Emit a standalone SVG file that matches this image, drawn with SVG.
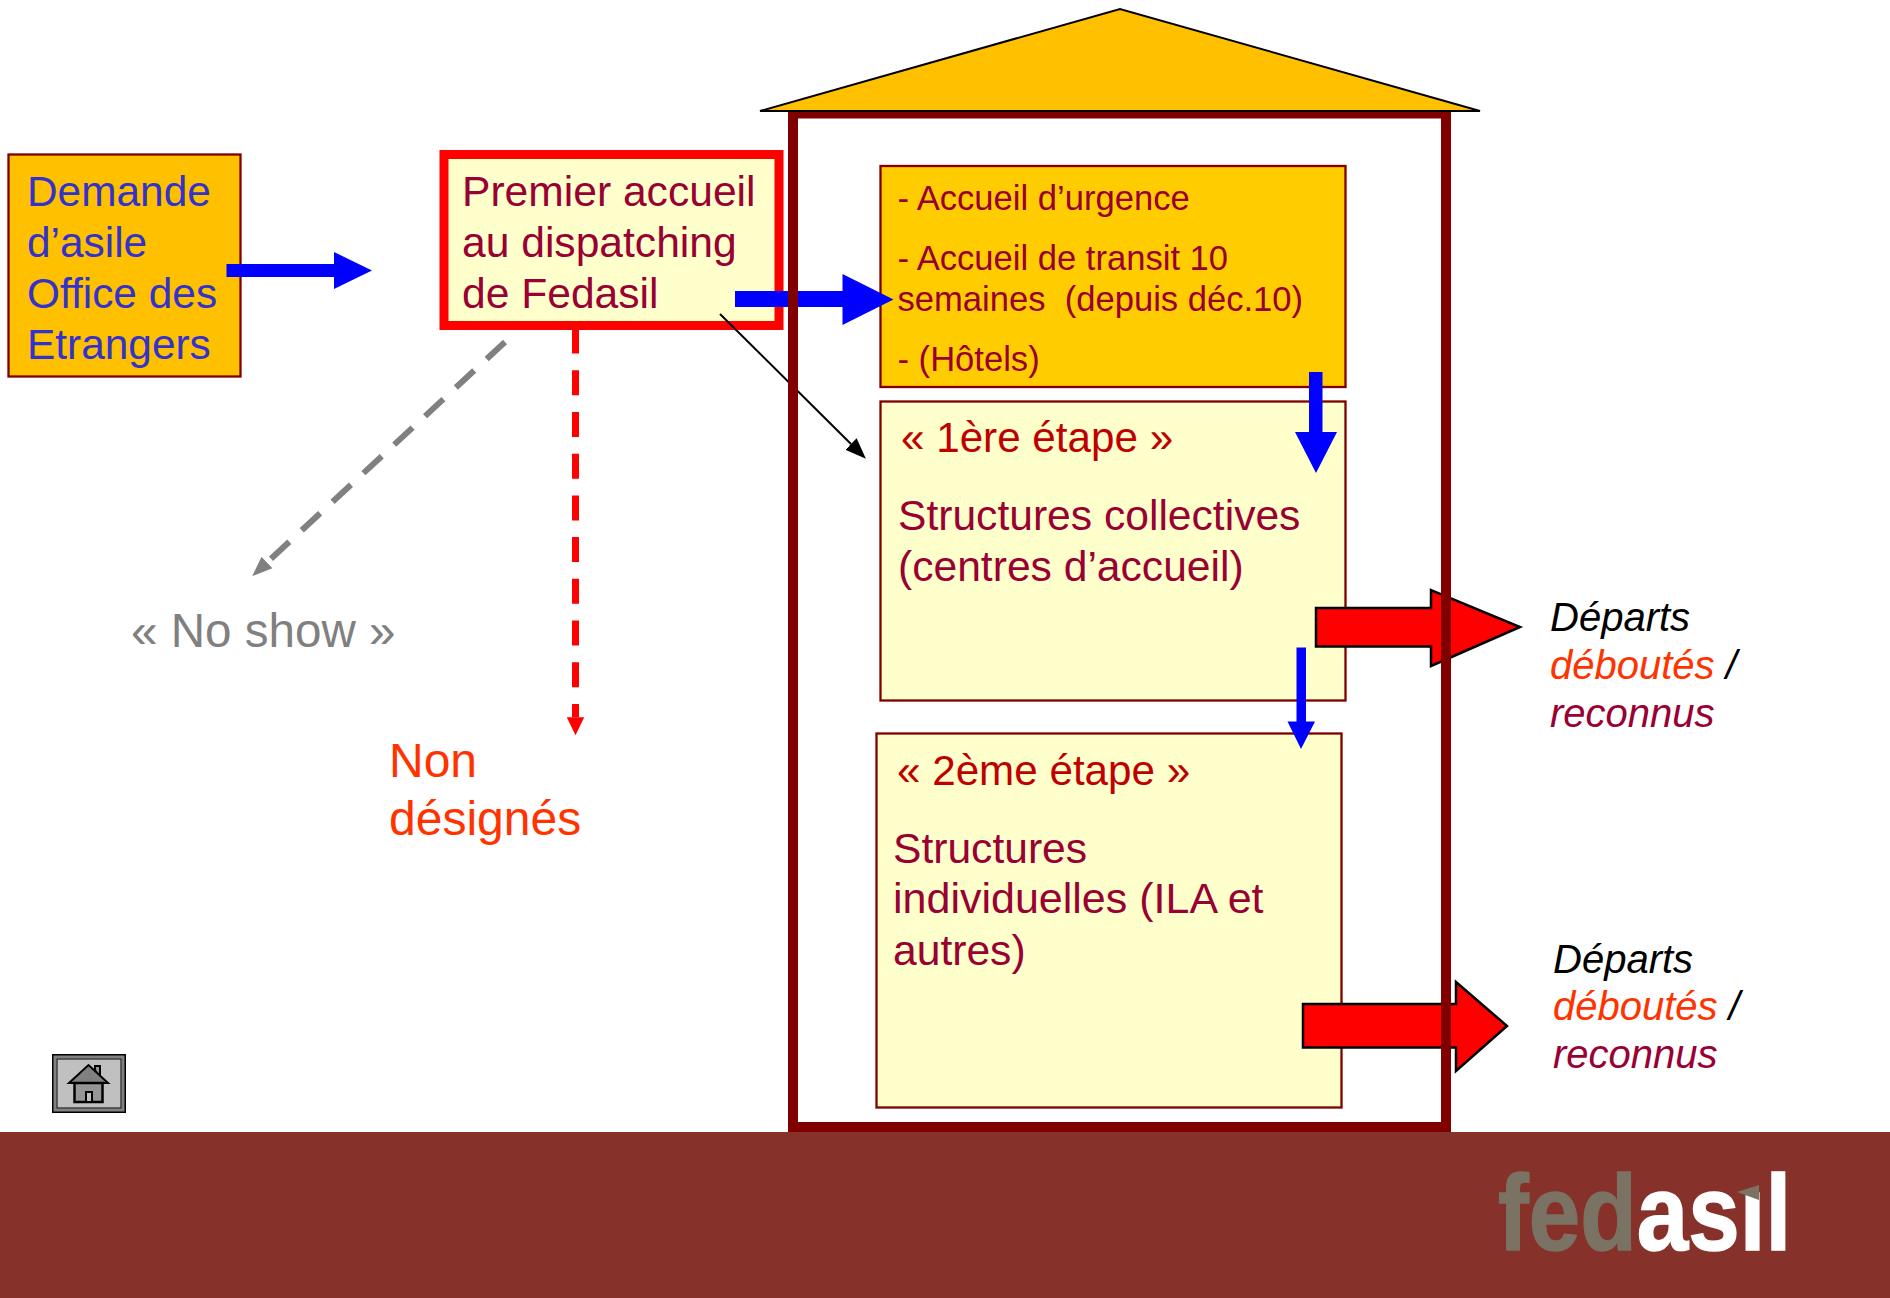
<svg xmlns="http://www.w3.org/2000/svg" width="1890" height="1298" viewBox="0 0 1890 1298">
<style>
text{font-family:"Liberation Sans",Arial,sans-serif}
.big{font-size:42.6px;fill:#990033}
.blue{font-size:42.4px;fill:#3333CC}
.mid{font-size:34.6px;fill:#990033}
.step{font-size:42.2px;fill:#C00000}
.grey{font-size:47.6px;fill:#808080}
.nd{font-size:48px;fill:#FF3300}
.dep{font-size:40px;font-style:italic;fill:#000}
.or{fill:#FF3300}
.cr{fill:#990033}
.box{stroke:#800000;stroke-width:2.3}
.blk{fill:#0000FF}
.redarrow{fill:#FF0000;stroke:#000;stroke-width:2.5}
</style>
<defs>
<marker id="hb" markerUnits="userSpaceOnUse" markerWidth="22" markerHeight="22" refX="0" refY="11" orient="auto"><path d="M0,3 L21,11 L0,19Z" fill="#000"/></marker>
<marker id="hg" markerUnits="userSpaceOnUse" markerWidth="22" markerHeight="20" refX="0" refY="10" orient="auto"><path d="M0,2 L20,10 L0,18Z" fill="#808080"/></marker>
<marker id="hr" markerUnits="userSpaceOnUse" markerWidth="20" markerHeight="20" refX="0" refY="10" orient="auto"><path d="M0,1.300 L18,10 L0,18.700Z" fill="#FF0000"/></marker>
</defs>
<rect width="1890" height="1298" fill="#fff"/>
<g id="footer">
<rect x="0" y="1132" width="1890" height="166" fill="#86322A"/>
<text transform="translate(1498 1250) scale(.865 1)" font-size="107" font-weight="700"><tspan fill="#7A7263" stroke="#7A7263" stroke-width="1.500">fed</tspan><tspan fill="#fff" stroke="#fff" stroke-width="1.500">asil</tspan></text>
<rect x="1738" y="1165" width="28" height="26" fill="#86322A"/>
<polygon points="1737,1192 1759,1185 1759,1200" fill="#7A7263"/>
</g>
<g id="home">
<rect x="53" y="1055" width="72" height="57" fill="#C0C0C0" stroke="#000" stroke-width="2"/>
<path d="M55,1057H123V1110H55Z" fill="none" stroke="#808080" stroke-width="3"/>
<rect x="57" y="1059" width="64" height="49" fill="#C0C0C0" stroke="#000" stroke-width="1"/>
<path d="M95,1070V1066H100V1078Z" fill="#969696" stroke="#000" stroke-width="2"/>
<path d="M69,1083L88.500,1065L108,1083Z" fill="#808080" stroke="#000" stroke-width="2"/>
<rect x="74.500" y="1083" width="28" height="19" fill="#969696" stroke="#000" stroke-width="2.500"/>
<rect x="86" y="1092" width="6" height="10" fill="#C0C0C0" stroke="#000" stroke-width="2"/>
</g>
<g id="demande">
<rect class="box" x="8.500" y="154.500" width="232" height="222" fill="#FFC000"/>
<text class="blue" x="27" y="206">Demande</text>
<text class="blue" x="27" y="257">d’asile</text>
<text class="blue" x="27" y="308">Office des</text>
<text class="blue" x="27" y="359">Etrangers</text>
</g>
<g id="premier">
<rect x="444" y="154.500" width="335" height="171" fill="#FFFFCC" stroke="#FF0000" stroke-width="9"/>
<text class="big" x="462" y="206">Premier accueil</text>
<text class="big" x="462" y="257">au dispatching</text>
<text class="big" x="462" y="308">de Fedasil</text>
</g>
<g id="urgence">
<rect class="box" x="880.500" y="166" width="465" height="221" fill="#FFCC00"/>
<text class="mid" x="897.500" y="210">- Accueil d’urgence</text>
<text class="mid" x="897.500" y="270">- Accueil de transit 10</text>
<text class="mid" x="897.500" y="311" xml:space="preserve">semaines  (depuis déc.10)</text>
<text class="mid" x="897.500" y="371">- (Hôtels)</text>
</g>
<g id="etape1">
<rect class="box" x="880.500" y="401.500" width="465" height="299" fill="#FFFFCC"/>
<text class="step" x="901" y="452" xml:space="preserve">« 1ère étape »</text>
<text class="big" x="898" y="530">Structures collectives</text>
<text class="big" x="898" y="581">(centres d’accueil)</text>
</g>
<g id="etape2">
<rect class="box" x="876.500" y="733.500" width="465" height="374" fill="#FFFFCC"/>
<text class="step" x="897" y="785" xml:space="preserve">« 2ème étape »</text>
<text class="big" x="893" y="863">Structures</text>
<text class="big" x="893" y="913" font-size="43" style="font-size:43px">individuelles (ILA et</text>
<text class="big" x="893" y="965">autres)</text>
</g>
<g id="noshow"><text class="grey" x="131" y="647">« No show »</text></g>
<g id="nondesignes">
<text class="nd" x="389" y="777">Non</text>
<text class="nd" x="389" y="835">désignés</text>
</g>
<g id="departs1">
<text class="dep" x="1550" y="631">Départs</text>
<text class="dep" x="1550" y="679"><tspan class="or">déboutés</tspan> /</text>
<text class="dep cr" x="1550" y="727">reconnus</text>
</g>
<g id="departs2">
<text class="dep" x="1553" y="973">Départs</text>
<text class="dep" x="1553" y="1020"><tspan class="or">déboutés</tspan> /</text>
<text class="dep cr" x="1553" y="1068">reconnus</text>
</g>
<g id="connectors">
<polygon class="blk" points="226.500,264 334,264 334,252 372,270.500 334,289 334,277 226.500,277"/>
<polygon class="blk" points="735,291 842.500,291 842.500,274 893.500,299.500 842.500,325 842.500,307 735,307"/>
<polygon class="blk" points="1309,372 1322.500,372 1322.500,432 1337,432 1316,473 1295,432 1309,432"/>
<polygon class="blk" points="1296.500,647.500 1306,647.500 1306,721.500 1315,721.500 1301,749 1287.500,721.500 1296.500,721.500"/>
<polygon class="redarrow" points="1316,608 1431,608 1431,590 1520,627 1431,666 1431,646.500 1316,646.500"/>
<polygon class="redarrow" points="1303,1004 1456,1004 1456,982 1507,1026 1456,1071 1456,1047.500 1303,1047.500"/>
<line x1="720" y1="314" x2="851" y2="444" stroke="#000" stroke-width="2" marker-end="url(#hb)"/>
<line x1="505" y1="342" x2="267" y2="562.500" stroke="#808080" stroke-width="6" stroke-dasharray="25 17" marker-end="url(#hg)"/>
<line x1="575.500" y1="328.500" x2="575.500" y2="717.300" stroke="#FF0000" stroke-width="7" stroke-dasharray="25 16.720" marker-end="url(#hr)"/>
</g>
<g id="house">
<rect x="793" y="113.500" width="653" height="1013.500" fill="none" stroke="#800000" stroke-width="10"/>
<polygon points="760,111 1120,9 1480,111" fill="#FFC000" stroke="#000" stroke-width="2"/>
</g>
</svg>
